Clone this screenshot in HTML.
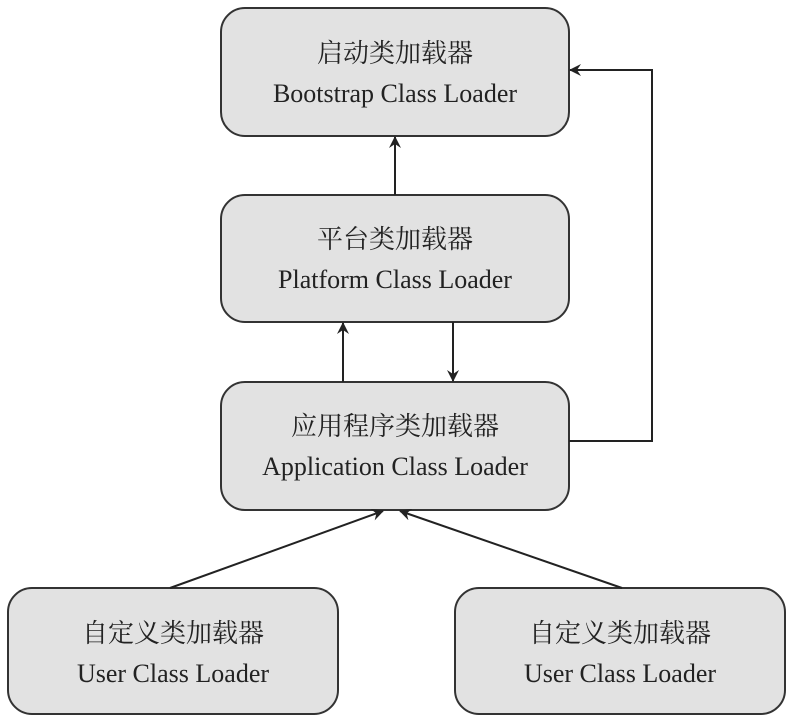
<!DOCTYPE html>
<html><head><meta charset="utf-8"><style>
html,body{margin:0;padding:0;background:#fff;width:794px;height:726px;overflow:hidden}
text{font-family:"Liberation Serif","Noto Serif CJK SC",serif;font-size:26px;fill:#222}
</style></head><body>
<svg width="794" height="726" viewBox="0 0 794 726" xmlns="http://www.w3.org/2000/svg">
<defs><marker id="a" viewBox="0 0 12 12" refX="11" refY="6" markerWidth="12" markerHeight="12" markerUnits="userSpaceOnUse" orient="auto"><path d="M0,0 L12,6 L0,12 L4,6 Z" fill="#222"/></marker></defs>
<g fill="#e2e2e2" stroke="#333" stroke-width="2">
<rect x="221" y="8" width="348" height="128" rx="24"/>
<rect x="221" y="195" width="348" height="127" rx="24"/>
<rect x="221" y="382" width="348" height="128" rx="24"/>
<rect x="8" y="588" width="330" height="126" rx="24"/>
<rect x="455" y="588" width="330" height="126" rx="24"/>
</g>
<g stroke="#222" stroke-width="2" fill="none" marker-end="url(#a)">
<line x1="395" y1="195" x2="395" y2="137"/>
<line x1="343" y1="382" x2="343" y2="323"/>
<line x1="453" y1="322" x2="453" y2="381"/>
<polyline points="569,441 652,441 652,70 570,70"/>
<line x1="170" y1="588" x2="383" y2="511"/>
<line x1="622" y1="588" x2="400" y2="511"/>
</g>
<g text-anchor="middle">
<text x="395" y="62">启动类加载器</text><text x="395" y="102">Bootstrap Class Loader</text>
<text x="395" y="248">平台类加载器</text><text x="395" y="288">Platform Class Loader</text>
<text x="395" y="435">应用程序类加载器</text><text x="395" y="475">Application Class Loader</text>
<text x="173" y="642">自定义类加载器</text><text x="173" y="682">User Class Loader</text>
<text x="620" y="642">自定义类加载器</text><text x="620" y="682">User Class Loader</text>
</g>
</svg>
</body></html>
